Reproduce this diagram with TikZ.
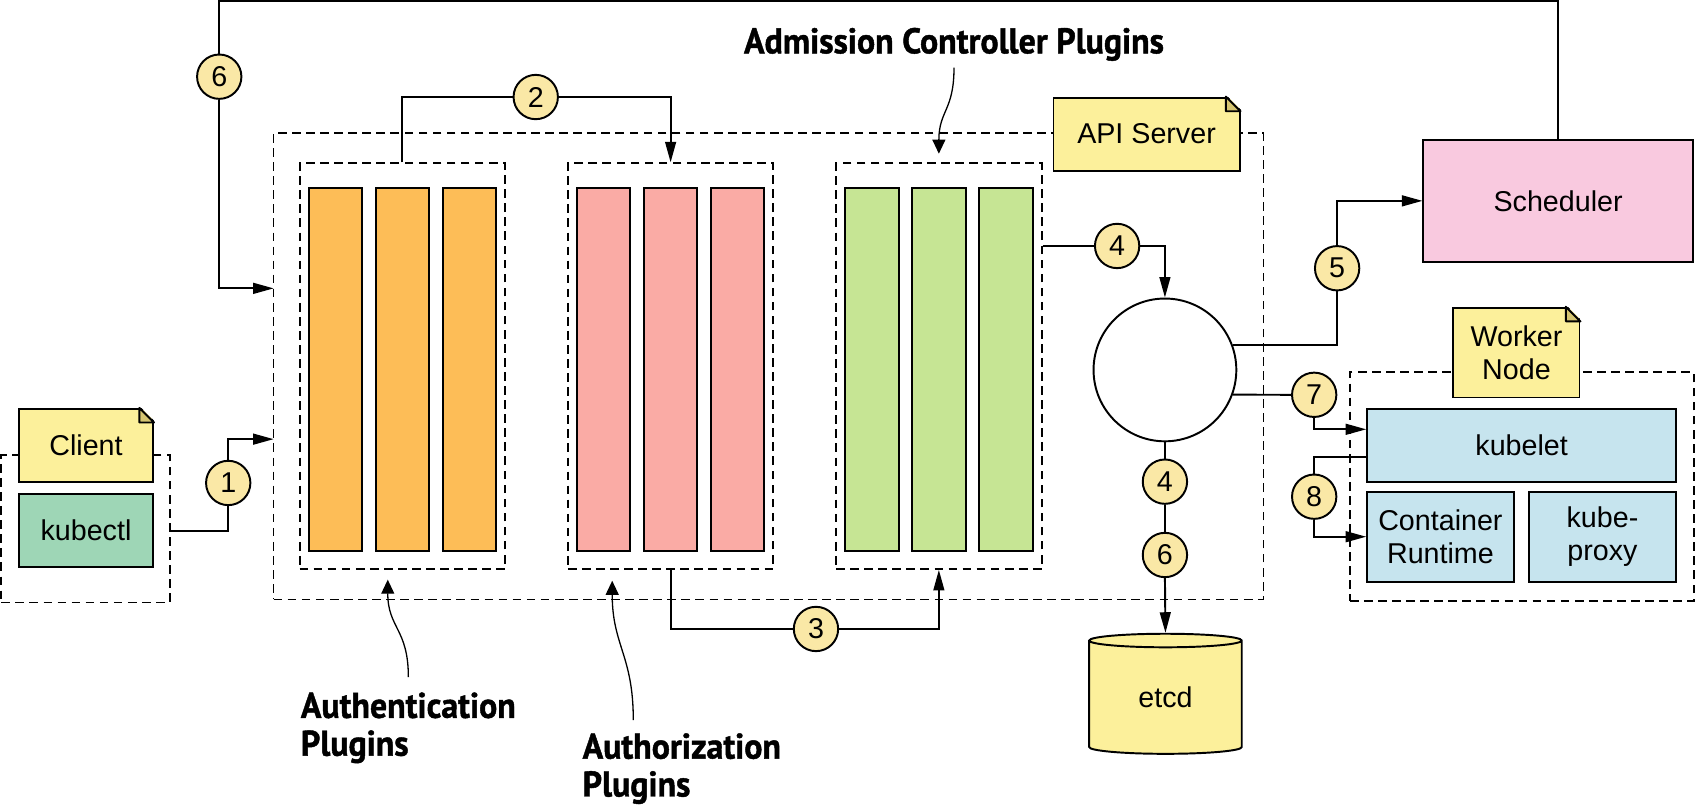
\documentclass[tikz,border=0pt]{standalone}
\usepackage{fontspec}
\setmainfont{Liberation Sans}
\newfontfamily\plugfont[FakeStretch=0.95,FakeBold=1.2]{PT Sans}
\usetikzlibrary{arrows.meta,shapes.geometric}
\definecolor{authc}{HTML}{FDBD57}
\definecolor{authzc}{HTML}{FAABA5}
\definecolor{admc}{HTML}{C6E594}
\definecolor{notec}{HTML}{FCF09B}
\definecolor{foldc}{HTML}{D5C571}
\definecolor{kubectlc}{HTML}{9ED6B6}
\definecolor{schedc}{HTML}{F9C9DF}
\definecolor{nodec}{HTML}{C6E4EE}
\definecolor{numc}{HTML}{FAE8A6}
\begin{document}
\begin{tikzpicture}[x=1pt,y=-1pt,>={Triangle[length=19pt,width=10pt]},
    lab/.style={font=\fontsize{26.5}{30}\selectfont},
    box/.style={draw,line width=1.8pt,lab,align=center,inner sep=0pt},
    note/.style={box,fill=notec},
    bar/.style={draw,line width=1.8pt,minimum width=49.5pt,minimum height=335.5pt},
    grp/.style={draw,line width=1.8pt,dash pattern=on 8pt off 5pt,minimum width=190pt,minimum height=375pt},
    frame/.style={draw,line width=1.3pt,dash pattern=on 8pt off 5pt},
    num/.style={draw,circle,fill=numc,line width=1.8pt,minimum size=41pt,inner sep=0pt,lab},
    plug/.style={font=\plugfont\bfseries\fontsize{33}{35}\selectfont,align=left,inner sep=0pt},
    line/.style={line width=1.8pt},
    hint/.style={line width=1.2pt,-{Triangle[length=13pt,width=12pt]}}]
  \useasboundingbox (0,0) rectangle (1568,744);
  % dashed frames
  \node[frame,minimum width=915pt,minimum height=431pt] (api) at (710.5,338.5) {};
  \node[frame,line width=1.8pt,minimum width=155.5pt,minimum height=136pt] (client) at (79,489) {};
  \node[frame,line width=1.8pt,minimum width=318pt,minimum height=211.4pt] (worker) at (1407,449.7) {};
  % plugin chains
  \foreach \g/\x/\c in {auth/372/authc,authz/620/authzc,adm/868/admc}{
    \node[grp] (\g) at (\x,338.5) {};
    \foreach \i in {1,2,3}
      \node[bar,fill=\c] (\g\i) at (\x-62+\i*62-62,341.25) {};
  }
  % notes
  \node[note,minimum width=124pt,minimum height=68pt] (clnote) at (79.5,412) {Client};
  \node[note,minimum width=172pt,minimum height=67.5pt] (apinote) at (1060,124) {API Server};
  \node[note,minimum width=116.5pt,minimum height=83pt] (wknote) at (1402,326) {Worker\\Node};
  \foreach \n in {clnote,apinote,wknote}{
    \fill[white] ([shift={(-13.5pt,2pt)}]\n.north east) -- ([shift={(2pt,2pt)}]\n.north east) -- ([shift={(2pt,-13.5pt)}]\n.north east) -- cycle;
    \filldraw[fill=foldc,line width=1.8pt,line join=round] ([xshift=-13.5pt]\n.north east) -- ([shift={(-13.5pt,-13.5pt)}]\n.north east) -- ([yshift=-13.5pt]\n.north east) -- cycle;
  }
  % components
  \node[box,fill=kubectlc,minimum width=124pt,minimum height=67pt] (kubectl) at (79.5,490.5) {kubectl};
  \node[box,fill=schedc,minimum width=249pt,minimum height=112.6pt] (sched) at (1440.5,185.7) {Scheduler};
  \node[box,fill=nodec,minimum width=285.6pt,minimum height=67pt] (kubelet) at (1406.8,411.9) {kubelet};
  \node[box,fill=nodec,minimum width=135.4pt,minimum height=83.2pt] (runtime) at (1331.7,496.2) {Container\\Runtime};
  \node[box,fill=nodec,minimum width=136.2pt,minimum height=83.2pt] (proxy) at (1481.5,496.2) {kube-\\proxy};
  \node[draw,circle,line width=1.8pt,minimum size=132pt] (hub) at (1077,342) {};
  \node[box,cylinder,shape border rotate=90,aspect=0.25,fill=notec,minimum width=141pt,minimum height=111pt] (etcd) at (1077.5,645) {etcd};
  % step numbers
  \foreach \n/\t/\x/\y in {c1/1/211/446.5,c2/2/495.3/89.7,c3/3/754.4/581.5,c4a/4/1032.8/227.4,c4b/4/1077/445.3,
      c5/5/1236.2/248,c6a/6/202.7/70.9,c6b/6/1077/513.1,c7/7/1215/365,c8/8/1215/459.2}
    \node[num] (\n) at (\x,\y) {\t};
  \coordinate (in1) at (253,406);
  \coordinate (in6) at (253,266.6);
  \coordinate (top) at (0,1);
  % connectors
  \draw[line] (client.east |- kubectl) -| (c1.south);
  \draw[line,->] (c1.north) |- (in1);
  \draw[line] (auth.north) |- (c2.west);
  \draw[line,->] (c2.east) -| (authz.north);
  \draw[line] (authz.south) |- (c3.west);
  \draw[line,->] (c3.east) -| (adm.south);
  \draw[line] (adm.east |- c4a) -- (c4a.west);
  \draw[line,->] (c4a.east) -| (hub.north);
  \draw[line] (hub.south) -- (c4b.north);
  \draw[line] (c4b.south) -- (c6b.north);
  \draw[line,->] (c6b.south) -- (etcd.north);
  \draw[line] (hub.20) -| (c5.south);
  \draw[line,->] (c5.north) |- (sched.west);
  \draw[line] (sched.north) -- (sched.north |- top) -| (c6a.north);
  \draw[line,->] (c6a.south) |- (in6);
  \draw[line] (hub.-20) -- (c7.west);
  \draw[line,->] (c7.south) |- ([yshift=15pt]kubelet.west);
  \draw[line] ([yshift=-11pt]kubelet.west) -| (c8.north);
  \draw[line,->] (c8.south) |- (runtime.west);
  % plugin labels
  \node[plug,anchor=base] (admlbl) at (882,49.3) {Admission Controller Plugins};
  \draw[hint] ([yshift=-6pt]admlbl.south) .. controls +(0,40) and +(0,-40) .. ([yshift=8pt]adm.north);
  \node[plug,anchor=north west] (authlbl) at (278,640) {Authentication\\Plugins};
  \draw[hint] ([yshift=14pt]authlbl.north) .. controls +(0,-45) and +(0,45) .. ([shift={(-13.5pt,-9pt)}]auth.south);
  \node[plug,anchor=north west] (authzlbl) at (538.5,677.7) {Authorization\\Plugins};
  \draw[hint] ([shift={(47pt,12pt)}]authzlbl.north west) .. controls +(0,-60) and +(0,60) .. ([shift={(-54pt,-10pt)}]authz.south);
\end{tikzpicture}
\end{document}
